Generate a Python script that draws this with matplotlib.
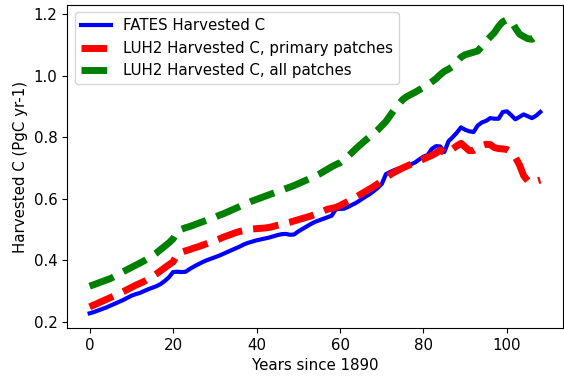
import numpy as np
import matplotlib
matplotlib.use('Agg')
import matplotlib.pyplot as plt

plt.rcParams['font.size'] = 10.8

# years since 1890, one value per year
years = np.arange(0, 109)

fates_harv = [0.228, 0.232, 0.237, 0.242, 0.247, 0.253, 0.259, 0.265, 0.271, 0.278,
              0.285, 0.290, 0.294, 0.300, 0.306, 0.311, 0.316, 0.323, 0.333, 0.345,
              0.362, 0.363, 0.362, 0.363, 0.372, 0.380, 0.387, 0.394, 0.400, 0.405,
              0.410, 0.415, 0.421, 0.427, 0.433, 0.439, 0.445, 0.452, 0.457, 0.461,
              0.465, 0.468, 0.471, 0.474, 0.478, 0.482, 0.485, 0.486, 0.483, 0.484,
              0.494, 0.502, 0.510, 0.518, 0.525, 0.530, 0.535, 0.540, 0.545, 0.566,
              0.567, 0.568, 0.574, 0.581, 0.588, 0.597, 0.606, 0.614, 0.624, 0.635,
              0.648, 0.680, 0.687, 0.693, 0.698, 0.702, 0.707, 0.712, 0.718, 0.728,
              0.737, 0.742, 0.762, 0.771, 0.770, 0.752, 0.787, 0.800, 0.815, 0.832,
              0.824, 0.819, 0.817, 0.838, 0.848, 0.853, 0.862, 0.860, 0.860, 0.882,
              0.884, 0.872, 0.858, 0.866, 0.874, 0.868, 0.862, 0.870, 0.882]

luh2_primary = [0.249, 0.255, 0.261, 0.267, 0.273, 0.279, 0.285, 0.291, 0.298, 0.305,
                0.312, 0.319, 0.325, 0.331, 0.339, 0.347, 0.356, 0.366, 0.376, 0.386,
                0.395, 0.420, 0.426, 0.431, 0.435, 0.440, 0.444, 0.449, 0.454, 0.459,
                0.464, 0.469, 0.475, 0.480, 0.485, 0.490, 0.494, 0.497, 0.500, 0.502,
                0.503, 0.504, 0.505, 0.507, 0.510, 0.514, 0.517, 0.521, 0.524, 0.528,
                0.532, 0.536, 0.540, 0.544, 0.549, 0.555, 0.560, 0.566, 0.569, 0.572,
                0.578, 0.585, 0.592, 0.599, 0.607, 0.615, 0.623, 0.631, 0.639, 0.648,
                0.658, 0.668, 0.678, 0.686, 0.693, 0.700, 0.706, 0.712, 0.718, 0.723,
                0.729, 0.735, 0.741, 0.748, 0.758, 0.750, 0.748, 0.762, 0.772, 0.780,
                0.768, 0.756, 0.757, 0.765, 0.773, 0.777, 0.776, 0.766, 0.763, 0.762,
                0.760, 0.752, 0.735, 0.710, 0.675, 0.658, 0.662, 0.657, 0.661]

luh2_all = [0.316, 0.321, 0.326, 0.331, 0.336, 0.341, 0.348, 0.356, 0.363, 0.370,
            0.377, 0.384, 0.391, 0.398, 0.406, 0.415, 0.424, 0.435, 0.446, 0.457,
            0.470, 0.495, 0.501, 0.506, 0.510, 0.515, 0.520, 0.525, 0.530, 0.535,
            0.540, 0.546, 0.551, 0.557, 0.563, 0.569, 0.575, 0.581, 0.587, 0.593,
            0.598, 0.603, 0.608, 0.613, 0.618, 0.623, 0.628, 0.633, 0.638, 0.643,
            0.649, 0.655, 0.661, 0.667, 0.673, 0.680, 0.688, 0.696, 0.704, 0.711,
            0.717, 0.727, 0.739, 0.752, 0.765, 0.777, 0.789, 0.800, 0.811, 0.823,
            0.837, 0.851, 0.870, 0.890, 0.906, 0.922, 0.932, 0.939, 0.946, 0.954,
            0.962, 0.970, 0.980, 0.990, 1.003, 1.014, 1.021, 1.030, 1.045, 1.060,
            1.068, 1.072, 1.076, 1.080, 1.095, 1.112, 1.126, 1.140, 1.160, 1.175,
            1.182, 1.178, 1.155, 1.135, 1.127, 1.120, 1.118, 1.128, 1.131]

fig = plt.figure(figsize=(5.64, 3.77), dpi=100)
ax = fig.add_axes([0.119, 0.13, 0.879, 0.857])

ax.plot(years, fates_harv, 'b-', lw=3, label='FATES Harvested C')
ax.plot(years, luh2_primary, 'r--', lw=5, label='LUH2 Harvested C, primary patches')
ax.plot(years, luh2_all, 'g--', lw=5, label='LUH2 Harvested C, all patches')

ax.set_xlabel('Years since 1890')
ax.set_ylabel('Harvested C (PgC yr-1)')
ax.legend(loc='upper left')

fig.savefig('out.png', dpi=100)
